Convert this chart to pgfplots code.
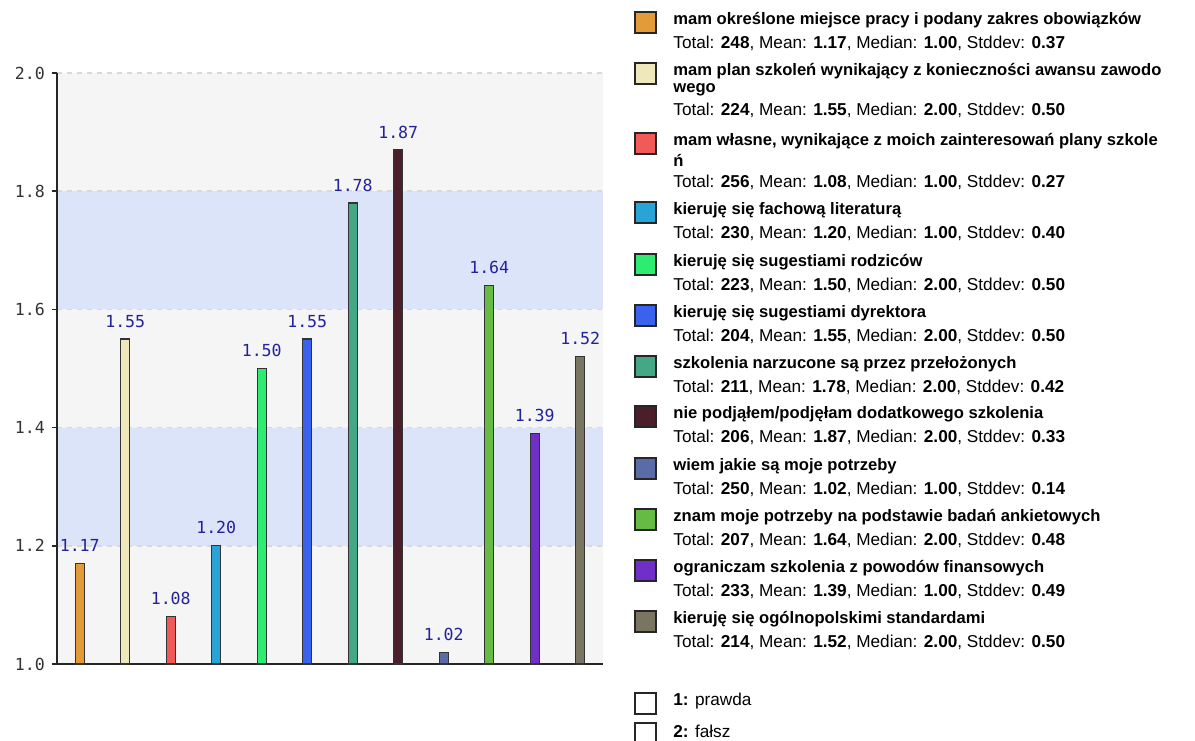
\documentclass[border=0pt]{standalone}
\usepackage{fontspec}
\setmainfont{Liberation Sans}
\newfontfamily\monofont{DejaVu Sans Mono}
\usepackage{pgfplots}
\pgfplotsset{compat=1.18}
\definecolor{c1}{HTML}{E39B3A}
\definecolor{c2}{HTML}{EEE8BC}
\definecolor{c3}{HTML}{F25A5A}
\definecolor{c4}{HTML}{2AA3D6}
\definecolor{c5}{HTML}{2EEB72}
\definecolor{c6}{HTML}{3A62EE}
\definecolor{c7}{HTML}{44A886}
\definecolor{c8}{HTML}{4A1F2A}
\definecolor{c9}{HTML}{5A6CA8}
\definecolor{c10}{HTML}{66BB44}
\definecolor{c11}{HTML}{7030C8}
\definecolor{c12}{HTML}{7A7560}
\definecolor{bgray}{HTML}{F5F5F5}
\definecolor{bblue}{HTML}{DCE4FA}
\definecolor{lblue}{HTML}{22229A}
\newcommand{\legtf}{\fontsize{8.3}{10}\selectfont\bfseries}
\newcommand{\legsf}{\fontsize{8.6}{10}\selectfont}
\newcommand{\stats}[4]{\legsf Total: \textbf{#1}, Mean: \textbf{#2}, Median: \textbf{#3}, Stddev: \textbf{#4}}
\newcommand{\legsq}[2]{\draw[black!85, line width=0.6pt, fill=#2] (635,#1-8) rectangle (656,#1+13);}
\newcommand{\legtl}[2]{\node[anchor=west, inner sep=0pt] at (673,#1) {\legtf #2};}
\newcommand{\legsl}[2]{\node[anchor=west, inner sep=0pt] at (673,#1) {#2};}
\begin{document}
\begin{tikzpicture}
\path[use as bounding box] (0,0) rectangle (597.5pt,-370pt);
\begin{scope}[x=0.5pt,y=-0.5pt]
\fill[bgray] (57,73) rectangle (603,664);
\fill[bblue] (57,191.2) rectangle (603,309.4);
\fill[bblue] (57,427.6) rectangle (603,545.8);
\end{scope}
\begin{axis}[
  at={(28.5pt,-332pt)}, anchor=south west,
  scale only axis, width=273pt, height=295.5pt,
  xmin=-0.5, xmax=11.5, ymin=1, ymax=2,
  axis x line=bottom, axis y line=left,
  axis line style={-, black!85, line width=0.8pt},
  xtick=\empty,
  ytick={1,1.2,1.4,1.6,1.8,2},
  yticklabel style={font=\monofont\fontsize{8.3}{10}\selectfont, text=black!80,
    /pgf/number format/fixed, /pgf/number format/fixed zerofill,
    /pgf/number format/precision=1, /pgf/number format/assume math mode=true},
  tick align=outside, major tick length=2.5pt,
  tick style={black!85, line width=0.8pt},
  ymajorgrids,
  grid style={color=black!15, line width=0.8pt, dash pattern=on 2.5pt off 2.5pt},
  ybar, bar width=4.4pt, bar shift=0pt,
  nodes near coords={\pgfmathprintnumber[fixed,fixed zerofill,precision=2,assume math mode=true]{\pgfplotspointmeta}},
  nodes near coords style={font=\monofont\fontsize{8.3}{10}\selectfont, text=lblue, anchor=south, inner sep=0pt, yshift=5.5pt},
  every axis plot/.append style={draw=black!80, line width=0.6pt},
]
\addplot[fill=c1] coordinates {(0,1.17)};
\addplot[fill=c2] coordinates {(1,1.55)};
\addplot[fill=c3] coordinates {(2,1.08)};
\addplot[fill=c4] coordinates {(3,1.20)};
\addplot[fill=c5] coordinates {(4,1.50)};
\addplot[fill=c6] coordinates {(5,1.55)};
\addplot[fill=c7] coordinates {(6,1.78)};
\addplot[fill=c8] coordinates {(7,1.87)};
\addplot[fill=c9] coordinates {(8,1.02)};
\addplot[fill=c10] coordinates {(9,1.64)};
\addplot[fill=c11] coordinates {(10,1.39)};
\addplot[fill=c12] coordinates {(11,1.52)};
\end{axis}
\begin{scope}[x=0.5pt,y=-0.5pt]
\legsq{20}{c1} \legtl{20}{mam określone miejsce pracy i podany zakres obowiązków} \legsl{43}{\stats{248}{1.17}{1.00}{0.37}}
\legsq{71}{c2} \legtl{71}{mam plan szkoleń wynikający z konieczności awansu zawodo} \legtl{90}{wego} \legsl{110}{\stats{224}{1.55}{2.00}{0.50}}
\legsq{141}{c3} \legtl{141}{mam własne, wynikające z moich zainteresowań plany szkole} \legtl{160}{ń} \legsl{182}{\stats{256}{1.08}{1.00}{0.27}}
\legsq{210}{c4} \legtl{210}{kieruję się fachową literaturą} \legsl{233}{\stats{230}{1.20}{1.00}{0.40}}
\legsq{262}{c5} \legtl{262}{kieruję się sugestiami rodziców} \legsl{285}{\stats{223}{1.50}{2.00}{0.50}}
\legsq{313}{c6} \legtl{313}{kieruję się sugestiami dyrektora} \legsl{336}{\stats{204}{1.55}{2.00}{0.50}}
\legsq{364}{c7} \legtl{364}{szkolenia narzucone są przez przełożonych} \legsl{387}{\stats{211}{1.78}{2.00}{0.42}}
\legsq{414}{c8} \legtl{414}{nie podjąłem/podjęłam dodatkowego szkolenia} \legsl{437}{\stats{206}{1.87}{2.00}{0.33}}
\legsq{466}{c9} \legtl{466}{wiem jakie są moje potrzeby} \legsl{489}{\stats{250}{1.02}{1.00}{0.14}}
\legsq{517}{c10} \legtl{517}{znam moje potrzeby na podstawie badań ankietowych} \legsl{540}{\stats{207}{1.64}{2.00}{0.48}}
\legsq{568}{c11} \legtl{568}{ograniczam szkolenia z powodów finansowych} \legsl{591}{\stats{233}{1.39}{1.00}{0.49}}
\legsq{619}{c12} \legtl{619}{kieruję się ogólnopolskimi standardami} \legsl{642}{\stats{214}{1.52}{2.00}{0.50}}
\legsq{701}{white} \legsl{701}{\legsf\textbf{1:} prawda}
\legsq{731}{white} \legsl{731}{\legsf\textbf{2:} fałsz}
\end{scope}
\end{tikzpicture}
\end{document}
